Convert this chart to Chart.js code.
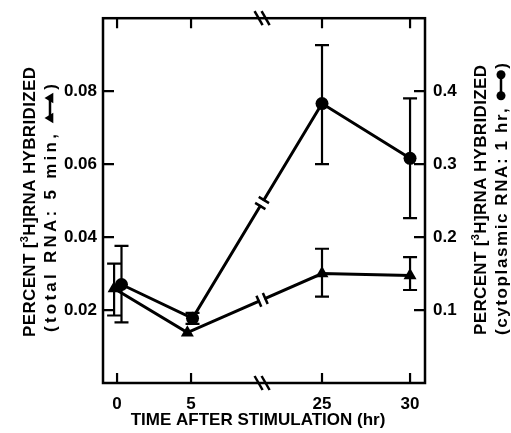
<!DOCTYPE html>
<html><head><meta charset="utf-8">
<script src="https://cdn.jsdelivr.net/npm/chart.js@4.4.1/dist/chart.umd.min.js"></script>
<style>html,body{margin:0;padding:0;background:#fff;}canvas{display:block;}</style>
</head><body>
<canvas id="c" width="511" height="433"></canvas>
<script>
// ---- data ----
const xTickHours = [0, 5, 25, 30];
const xTickLabels = ['0', '5', '25', '30'];
const leftTickValues = [0.02, 0.04, 0.06, 0.08];
const rightTickValues = [0.1, 0.2, 0.3, 0.4];

// total RNA, 5 min pulse (left axis, triangles)
const totalHours = [-0.2, 4.75, 25, 30];
const totalPct = [0.0259, 0.0138, 0.0300, 0.0295];
const totalErrHigh = [0.0327, null, 0.0368, 0.0345];
const totalErrLow = [0.0185, null, 0.0237, 0.0255];

// cytoplasmic RNA, 1 hr pulse (right axis, circles)
const cytoHours = [0.3, 5.1, 25, 30];
const cytoPct = [0.135, 0.0886, 0.383, 0.308];
const cytoErrHigh = [0.188, 0.096, 0.463, 0.390];
const cytoErrLow = [0.083, 0.081, 0.300, 0.226];

// broken time axis: 0-5 hr and 25-30 hr segments, break drawn between them
const BREAK_POS = 9.8;
function axisPos(h) { return h <= 5.5 ? h : 13.85 + (h - 25) * 1.19; }

const FONT = '"Liberation Sans", Arial, Helvetica, sans-serif';
const INK = '#000';

function drawFitted(ctx, items, cx, cy, length, size) {
  const glyphs = [];
  items.forEach(it => {
    if (it.shape) glyphs.push(it);
    else for (const ch of it.t) glyphs.push({ t: ch, font: it.font, dy: it.dy || 0 });
  });
  let natural = 0;
  glyphs.forEach(g => {
    if (!g.shape) { ctx.font = g.font; g.w = ctx.measureText(g.t).width; }
    natural += g.w;
  });
  const sp = (length - natural) / (glyphs.length - 1);
  const capH = 0.716 * size;
  ctx.save();
  ctx.translate(cx, cy);
  ctx.rotate(-Math.PI / 2);
  ctx.textBaseline = 'alphabetic';
  ctx.textAlign = 'left';
  let x = -length / 2;
  glyphs.forEach(g => {
    if (g.shape) g.shape(ctx, x, 0, g.w);
    else { ctx.font = g.font; ctx.fillText(g.t, x, capH / 2 + g.dy); }
    x += g.w + sp;
  });
  ctx.restore();
}

function triMarker(ctx, x, y, r) {
  ctx.beginPath();
  ctx.moveTo(x, y - r);
  ctx.lineTo(x + r * 0.95, y + r * 0.6);
  ctx.lineTo(x - r * 0.95, y + r * 0.6);
  ctx.closePath(); ctx.fill();
}
function dotMarker(ctx, x, y, r) {
  ctx.beginPath(); ctx.arc(x, y, r, 0, Math.PI * 2); ctx.fill();
}
function legendShape(kind) {
  return {
    shape: (ctx, x, y, w) => {
      ctx.save();
      ctx.lineWidth = 2.5; ctx.strokeStyle = INK; ctx.fillStyle = INK;
      ctx.beginPath(); ctx.moveTo(x + 4, y); ctx.lineTo(x + w - 4, y); ctx.stroke();
      if (kind === 'tri') { triMarker(ctx, x + 5, y, 5.5); triMarker(ctx, x + w - 5, y, 5.5); }
      else { dotMarker(ctx, x + 4.5, y, 4.5); dotMarker(ctx, x + w - 4.5, y, 4.5); }
      ctx.restore();
    }, w: 30
  };
}

const decor = {
  id: 'decor',
  beforeDatasetsDraw(chart) {
    const { ctx, scales: { x, yL, yR } } = chart;
    ctx.save();
    ctx.strokeStyle = INK; ctx.lineWidth = 2.2;
    const drawErr = (hours, hi, lo, scale) => {
      hours.forEach((h, i) => {
        if (hi[i] == null) return;
        const px = x.getPixelForValue(axisPos(h));
        const y1 = scale.getPixelForValue(hi[i]), y2 = scale.getPixelForValue(lo[i]);
        ctx.beginPath();
        ctx.moveTo(px, y1); ctx.lineTo(px, y2);
        ctx.moveTo(px - 7, y1); ctx.lineTo(px + 7, y1);
        ctx.moveTo(px - 7, y2); ctx.lineTo(px + 7, y2);
        ctx.stroke();
      });
    };
    drawErr(totalHours, totalErrHigh, totalErrLow, yL);
    drawErr(cytoHours, cytoErrHigh, cytoErrLow, yR);
    ctx.restore();
  },
  afterDatasetsDraw(chart) {
    const { ctx, chartArea: a, scales: { x, yL, yR } } = chart;
    ctx.save();
    ctx.strokeStyle = INK; ctx.fillStyle = INK;
    // break marks on the data lines
    const bx = x.getPixelForValue(BREAK_POS);
    chart.data.datasets.forEach((ds, di) => {
      const pts = chart.getDatasetMeta(di).data;
      const p1 = pts[1], p2 = pts[2];
      const t = (bx - p1.x) / (p2.x - p1.x);
      const cx = p1.x + t * (p2.x - p1.x), cy = p1.y + t * (p2.y - p1.y);
      const len = Math.hypot(p2.x - p1.x, p2.y - p1.y);
      const ux = (p2.x - p1.x) / len, uy = (p2.y - p1.y) / len;
      const nx = -uy, ny = ux;
      ctx.strokeStyle = '#fff'; ctx.lineWidth = 6;
      ctx.beginPath(); ctx.moveTo(cx - ux * 2.5, cy - uy * 2.5); ctx.lineTo(cx + ux * 2.5, cy + uy * 2.5); ctx.stroke();
      ctx.strokeStyle = INK; ctx.lineWidth = 2.5;
      [-3.5, 3.5].forEach(s => {
        ctx.beginPath();
        ctx.moveTo(cx + ux * s - nx * 6, cy + uy * s - ny * 6);
        ctx.lineTo(cx + ux * s + nx * 6, cy + uy * s + ny * 6);
        ctx.stroke();
      });
    });
    // frame
    ctx.lineWidth = 2.5;
    ctx.strokeRect(a.left, a.top, a.right - a.left, a.bottom - a.top);
    // tick marks (inward)
    ctx.lineWidth = 2.2;
    ctx.beginPath();
    leftTickValues.forEach(v => { const y = yL.getPixelForValue(v); ctx.moveTo(a.left, y); ctx.lineTo(a.left + 11, y); });
    rightTickValues.forEach(v => { const y = yR.getPixelForValue(v); ctx.moveTo(a.right, y); ctx.lineTo(a.right - 11, y); });
    xTickHours.forEach(h => {
      const px = x.getPixelForValue(axisPos(h));
      ctx.moveTo(px, a.bottom); ctx.lineTo(px, a.bottom - 10);
      ctx.moveTo(px, a.top); ctx.lineTo(px, a.top + 10);
    });
    ctx.stroke();
    // axis break marks on top and bottom frame
    ctx.lineWidth = 2.5;
    [a.top, a.bottom].forEach(y => {
      [-3.5, 3.5].forEach(s => {
        ctx.beginPath(); ctx.moveTo(bx + s - 4, y - 7); ctx.lineTo(bx + s + 4, y + 7); ctx.stroke();
      });
    });
    ctx.restore();
  },
  afterDraw(chart) {
    const { ctx } = chart;
    ctx.save();
    ctx.fillStyle = INK;
    const f17 = 'bold 17px ' + FONT, fSup = 'bold 11px ' + FONT;
    const line1 = [{ t: 'PERCENT [', font: f17 }, { t: '3', font: fSup, dy: -7 }, { t: 'H]RNA HYBRIDIZED', font: f17 }];
    drawFitted(ctx, line1, 29, 202, 270, 17);
    drawFitted(ctx, [{ t: '(total RNA: 5 min, ', font: f17 }, legendShape('tri'), { t: ')', font: f17 }], 50, 208, 248, 17);
    drawFitted(ctx, line1, 480, 200, 270, 17);
    drawFitted(ctx, [{ t: '(cytoplasmic RNA: 1 hr, ', font: f17 }, legendShape('dot'), { t: ')', font: f17 }], 501, 199, 272, 17);
    // x title
    ctx.font = f17; ctx.textAlign = 'center'; ctx.textBaseline = 'middle';
    ctx.fillText('TIME AFTER STIMULATION (hr)', 258, 420);
    ctx.restore();
  }
};

const tickFont = { family: FONT, size: 17, weight: 'bold' };

new Chart(document.getElementById('c'), {
  type: 'line',
  data: {
    datasets: [
      {
        label: 'total RNA: 5 min',
        data: totalHours.map((h, i) => ({ x: axisPos(h), y: totalPct[i] })),
        yAxisID: 'yL',
        borderColor: INK, backgroundColor: INK, borderWidth: 3,
        pointStyle: 'triangle', pointRadius: 7.5, pointBorderWidth: 0,
        tension: 0
      },
      {
        label: 'cytoplasmic RNA: 1 hr',
        data: cytoHours.map((h, i) => ({ x: axisPos(h), y: cytoPct[i] })),
        yAxisID: 'yR',
        borderColor: INK, backgroundColor: INK, borderWidth: 3,
        pointStyle: 'circle', pointRadius: 6.5, pointBorderWidth: 0,
        tension: 0
      }
    ]
  },
  options: {
    responsive: false, animation: false, devicePixelRatio: 1,
    layout: { padding: { top: 16, left: 0, right: 0, bottom: 0 } },
    plugins: { legend: { display: false }, tooltip: { enabled: false } },
    scales: {
      x: {
        type: 'linear', min: -0.95, max: 20.81,
        grid: { display: false, drawTicks: false }, border: { display: false },
        afterBuildTicks: s => { s.ticks = xTickHours.map(h => ({ value: axisPos(h) })); },
        afterFit: s => { s.height = 50; },
        ticks: { autoSkip: false, maxRotation: 0, padding: 11, color: INK, font: tickFont,
          callback: (v, i) => xTickLabels[i] }
      },
      yL: {
        type: 'linear', position: 'left', min: 0, max: 0.1,
        grid: { display: false, drawTicks: false }, border: { display: false },
        afterBuildTicks: s => { s.ticks = leftTickValues.map(v => ({ value: v })); },
        afterFit: s => { s.width = 103; },
        ticks: { autoSkip: false, padding: 6, color: INK, font: tickFont, callback: v => v.toFixed(2) }
      },
      yR: {
        type: 'linear', position: 'right', min: 0, max: 0.5,
        grid: { display: false, drawTicks: false }, border: { display: false },
        afterBuildTicks: s => { s.ticks = rightTickValues.map(v => ({ value: v })); },
        afterFit: s => { s.width = 86; },
        ticks: { autoSkip: false, padding: 8, color: INK, font: tickFont, callback: v => v.toFixed(1) }
      }
    }
  },
  plugins: [decor]
});
</script>
</body></html>
